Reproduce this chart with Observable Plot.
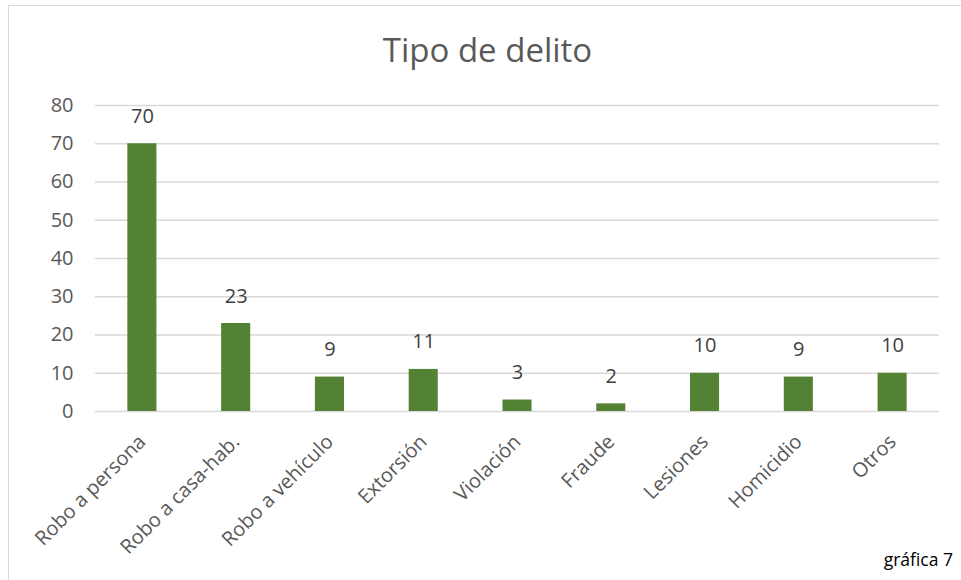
<!DOCTYPE html>
<html>
<head>
<meta charset="utf-8">
<script src="https://cdn.jsdelivr.net/npm/d3@7"></script>
<script src="https://cdn.jsdelivr.net/npm/@observablehq/plot@0.6"></script>
<style>
  body { margin: 0; background: #fff; font-family: "Open Sans", sans-serif; }
  #wrap { position: relative; width: 961px; height: 580px; overflow: hidden; }
  #frame { position: absolute; left: 8px; top: 5px; width: 980px; height: 600px; border: 1.5px solid #d9d9d9; box-sizing: border-box; }
  #title { position: absolute; left: 0; width: 975px; top: 30px; text-align: center; font-size: 33px; color: #595959; line-height: 40px; }
  #chart { position: absolute; left: 0; top: 70px; }
  #note { position: absolute; right: 8px; top: 548px; font-size: 17.5px; color: #000; line-height: 22px; }
</style>
</head>
<body>
<div id="wrap">
  <div id="frame"></div>
  <div id="title">Tipo de delito</div>
  <div id="chart"></div>
  <div id="note">gráfica 7</div>
</div>
<script>
const categories = ["Robo a persona", "Robo a casa-hab.", "Robo a vehículo", "Extorsión", "Violación", "Fraude", "Lesiones", "Homicidio", "Otros"];
const values = [70, 23, 9, 11, 3, 2, 10, 9, 10];
const yTicks = [0, 10, 20, 30, 40, 50, 60, 70, 80];

const data = categories.map((c, i) => ({ category: c, value: values[i] }));

const chart = Plot.plot({
  width: 961,
  height: 500,
  marginTop: 35,
  marginBottom: 159,
  marginLeft: 95,
  marginRight: 22,
  style: { fontFamily: "Open Sans, sans-serif", fontSize: "20px", color: "#595959", background: "transparent", overflow: "visible" },
  x: { domain: categories, paddingInner: 0.69, paddingOuter: 0.345, round: false, label: null },
  y: { domain: [0, 80], label: null },
  marks: [
    Plot.gridY(yTicks, { stroke: "#d9d9d9", strokeOpacity: 1, strokeWidth: 1.4 }),
    Plot.barY(data, { x: "category", y: "value", fill: "#548235" }),
    Plot.text(data, { x: "category", y: "value", text: d => String(d.value), dy: -21, lineAnchor: "bottom", fill: "#404040", fontSize: 20 }),
    Plot.axisY(yTicks, { tickSize: 0, tickPadding: 22, fill: "#595959", fontSize: 20 }),
    Plot.axisX({ tickSize: 0, tickPadding: 27, tickRotate: -45, fill: "#595959", fontSize: 20 })
  ]
});
document.getElementById("chart").appendChild(chart);
</script>
</body>
</html>
